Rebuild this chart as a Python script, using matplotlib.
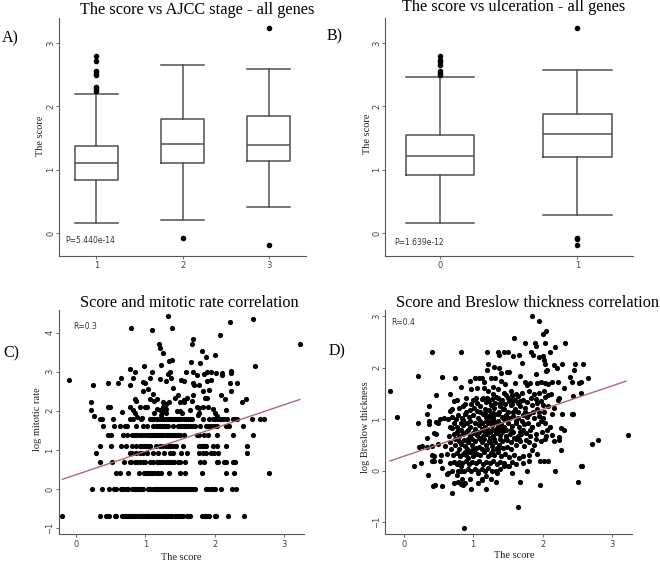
import matplotlib
matplotlib.use('Agg')
from matplotlib import pyplot as plt

W, H = 660, 562
SERIF = 'Liberation Serif'
GRAY = '#555555'
LINE_RED = '#b5696d'

# panel A / B boxplots
stage_labels = ['1', '2', '3']
stage_whislo = [0.165, 0.205, 0.41]
stage_q1 = [0.84, 1.11, 1.13]
stage_med = [1.11, 1.40, 1.385]
stage_q3 = [1.38, 1.80, 1.85]
stage_whishi = [2.20, 2.66, 2.585]
stage_fliers = [[2.25, 2.27, 2.30, 2.50, 2.53, 2.56, 2.72, 2.80], [-0.085], [-0.195, 3.23]]

ulcer_labels = ['0', '1']
ulcer_whislo = [0.165, 0.29]
ulcer_q1 = [0.91, 1.20]
ulcer_med = [1.21, 1.56]
ulcer_q3 = [1.55, 1.88]
ulcer_whishi = [2.46, 2.58]
ulcer_fliers = [[2.50, 2.53, 2.56, 2.65, 2.70, 2.73, 2.80], [-0.195, -0.09, -0.08, 3.23]]

# panel C: discrete mitotic rate levels, score values on each
mitotic_levels = [-0.69, 0.0, 0.41, 0.69, 0.92, 1.10, 1.39, 1.61, 1.79]
mitotic_scores = [
    [-0.20, 0.34, 0.43, 0.45, 0.48, 0.56, 0.58, 0.66, 0.69, 0.71, 0.73, 0.75, 0.77, 0.79, 0.81, 0.83, 0.85,
     0.87, 0.90, 0.92, 0.94, 0.96, 0.99, 1.01, 1.03, 1.05, 1.07, 1.10, 1.12, 1.14, 1.16, 1.18, 1.20, 1.22,
     1.25, 1.27, 1.29, 1.31, 1.34, 1.37, 1.39, 1.42, 1.45, 1.48, 1.51, 1.54, 1.60, 1.62, 1.64, 1.81, 1.84,
     1.86, 1.88, 1.92, 2.00, 2.02, 2.19, 2.43],
    [0.23, 0.37, 0.48, 0.54, 0.57, 0.65, 0.68, 0.72, 0.75, 0.81, 0.83, 0.85, 0.87, 0.89, 0.92, 0.94, 0.97,
     1.04, 1.07, 1.11, 1.14, 1.16, 1.18, 1.21, 1.23, 1.25, 1.28, 1.30, 1.33, 1.35, 1.38, 1.41, 1.43, 1.46,
     1.49, 1.51, 1.54, 1.57, 1.60, 1.63, 1.66, 1.69, 1.71, 1.88, 1.91, 1.94, 1.97, 2.00, 2.09, 2.25, 2.31],
    [0.58, 0.63, 0.75, 0.91, 0.98, 1.01, 1.04, 1.07, 1.10, 1.13, 1.16, 1.18, 1.23, 1.34, 1.50, 1.57, 1.81,
     2.16, 2.28, 2.79],
    [0.35, 0.51, 0.69, 0.77, 0.79, 0.85, 0.88, 0.92, 0.96, 1.00, 1.07, 1.11, 1.17, 1.20, 1.23, 1.26, 1.29,
     1.32, 1.35, 1.38, 1.41, 1.47, 1.50, 1.57, 1.79, 1.84, 2.03, 2.05, 2.13, 2.16, 2.27, 2.29],
    [0.28, 0.78, 0.81, 0.87, 0.92, 0.96, 1.02, 1.11, 1.18, 1.27, 1.35, 1.40, 1.52, 1.60, 1.78, 1.83, 1.88,
     1.94, 1.99, 2.05, 2.46],
    [0.35, 0.50, 0.64, 0.72, 0.81, 0.87, 0.92, 0.95, 0.98, 1.01, 1.04, 1.06, 1.15, 1.21, 1.26, 1.30, 1.33,
     1.36, 1.39, 1.42, 1.44, 1.54, 1.77, 1.80, 1.83, 1.86, 1.88, 1.98, 2.03, 2.17, 2.46],
    [0.46, 0.50, 0.67, 0.74, 0.80, 0.83, 0.86, 0.90, 0.95, 1.00, 1.04, 1.07, 1.10, 1.13, 1.15, 1.18, 1.21,
     1.24, 1.26, 1.29, 1.32, 1.35, 1.38, 1.41, 1.44, 1.47, 1.50, 1.55, 1.74, 1.77, 1.85, 1.90, 2.03, 2.27, 2.55],
    [0.39, 0.54, 0.63, 0.70, 0.73, 0.87, 0.97, 1.02, 1.11, 1.15, 1.18, 1.21, 1.24, 1.27, 1.30, 1.33, 1.40,
     1.47, 1.50, 1.53, 1.56, 1.59, 1.62, 1.65, 1.68, 1.71, 1.79, 1.88, 1.92, 1.96, 2.00, 2.04, 2.16, 2.21, 2.41],
    [0.35, 0.37, 0.53, 0.78, 0.82, 0.93, 1.07, 1.10, 1.13, 1.16, 1.19, 1.22, 1.25, 1.28, 1.31, 1.34, 1.37,
     1.40, 1.43, 1.46, 1.49, 1.52, 1.55, 1.58, 1.61, 1.64, 1.67, 1.83, 1.92, 1.98, 2.01, 2.05, 2.08, 2.11, 2.14,
     2.18, 2.27, 2.30, 2.32, 2.54, 2.65, 2.71],
]
mitotic_free = [
    (-0.10, 2.78), (0.24, 2.65), (0.46, 2.72), (0.60, 2.72), (0.65, 2.85), (0.79, 4.11), (1.10, 4.08), (1.32, 4.43),
    (1.38, 4.11), (1.69, 3.83), (1.67, 3.72), (2.22, 4.27), (2.56, 4.34), (3.23, 3.71), (2.58, 3.15), (2.08, 3.93),
    (2.01, 3.42), (1.82, 3.52), (1.87, 3.37), (1.66, 3.24), (1.79, 3.23), (1.20, 3.70), (1.21, 3.61), (1.25, 3.48),
    (1.34, 3.27), (1.39, 3.30), (1.23, 3.18), (0.98, 3.16), (0.85, 3.00), (0.78, 3.06), (0.82, 2.84), (0.78, 2.65),
    (0.97, 2.74), (1.00, 2.70), (1.06, 2.84), (1.09, 3.00), (1.21, 2.82), (1.30, 2.76), (1.32, 2.95), (1.35, 3.00),
    (1.37, 2.84), (1.40, 2.59), (1.52, 2.80), (1.56, 2.76), (1.58, 3.00), (1.69, 3.00), (1.68, 2.71), (1.70, 2.67),
    (1.75, 2.91), (1.78, 2.67), (1.84, 2.95), (1.89, 3.00), (1.89, 2.77), (1.95, 3.00), (1.95, 2.80), (2.02, 2.96),
    (2.11, 2.97), (2.11, 2.91), (2.22, 2.71), (2.23, 2.97), (2.24, 3.03), (2.23, 2.50), (2.32, 2.72), (2.09, 2.41),
    (2.15, 2.30), (1.92, 2.54), (1.83, 2.50), (1.68, 2.41), (1.55, 2.29), (1.47, 2.41), (0.97, 2.50), (0.85, 2.31),
    (0.87, 2.24), (0.92, 2.11), (1.00, 2.11), (0.21, 2.22), (0.21, 2.03), (0.25, 1.88), (0.49, 2.11), (0.46, 2.11),
    (0.66, 1.96), (0.78, 2.10), (0.82, 2.03), (0.85, 1.94), (0.95, 1.83), (0.88, 1.85), (1.02, 2.11), (1.07, 2.31),
    (1.13, 2.24), (1.16, 2.31), (1.25, 2.22), (1.30, 2.17), (1.25, 2.11), (1.34, 2.23), (1.43, 2.33), (1.50, 2.22),
    (1.55, 2.29), (1.60, 2.33), (1.67, 2.24), (1.75, 2.11), (1.78, 2.07), (1.86, 2.33), (1.89, 2.33), (1.98, 2.05),
    (2.00, 1.94), (2.04, 1.86), (2.16, 2.03), (2.39, 2.22), (2.45, 2.31), (1.25, 1.98), (1.21, 2.03), (1.30, 1.94),
    (1.78, 1.94), (1.64, 2.03), (1.45, 1.99), (1.50, 1.99), (1.53, 1.94), (1.76, 1.90), (1.22, 1.90), (1.29, 2.05),
    (1.11, 2.42), (1.12, 1.95), (1.16, 2.05), (1.04, 2.55), (1.56, 2.22), (1.83, 2.10), (1.90, 2.10),
]
mitotic_fit_x = [-0.20, 3.23]
mitotic_fit_y = [0.25, 2.29]

# panel D: score, log Breslow thickness
breslow_points = [
    (1.84, 3.01), (1.95, 2.90), (2.00, 2.65), (2.05, 2.72), (1.59, 2.58), (1.74, 2.49), (1.90, 2.43), (1.89, 2.48),
    (2.03, 2.48), (2.32, 2.49), (2.18, 2.40), (2.10, 2.30), (0.40, 2.31), (0.83, 2.31), (1.20, 2.31), (1.35, 2.30),
    (1.37, 2.24), (1.45, 2.30), (1.50, 2.30), (1.58, 2.22), (1.66, 2.25), (1.70, 2.09), (1.83, 2.30), (1.86, 2.25),
    (1.95, 2.20), (2.00, 2.22), (2.02, 2.15), (2.03, 2.08), (2.06, 1.95), (2.05, 1.93), (1.21, 2.08), (1.20, 1.95),
    (1.30, 2.02), (1.37, 2.00), (1.40, 1.90), (1.48, 1.92), (1.52, 1.92), (1.67, 1.84), (1.90, 1.88), (2.17, 2.05),
    (2.20, 2.00), (2.28, 2.08), (2.46, 2.08), (2.58, 2.08), (2.45, 1.96), (2.39, 1.82), (2.42, 1.72), (2.65, 1.80),
    (2.55, 1.72), (2.53, 1.70), (0.20, 1.85), (0.55, 1.83), (0.74, 1.80), (0.95, 1.75), (1.02, 1.80), (1.08, 1.80),
    (1.13, 1.80), (1.16, 1.72), (1.25, 1.80), (1.32, 1.80), (1.40, 1.75), (1.46, 1.68), (1.60, 1.70), (1.75, 1.73),
    (1.78, 1.66), (1.82, 1.70), (1.92, 1.70), (1.98, 1.72), (2.03, 1.70), (2.08, 1.68), (2.13, 1.72), (2.22, 1.72),
    (2.30, 1.61), (-0.20, 1.55), (0.66, 1.50), (0.83, 1.62), (0.97, 1.58), (1.06, 1.60), (1.15, 1.60), (1.22, 1.55),
    (1.28, 1.62), (1.35, 1.58), (1.44, 1.52), (1.55, 1.55), (1.62, 1.50), (1.70, 1.52), (1.80, 1.55), (1.88, 1.50),
    (1.95, 1.52), (2.02, 1.55), (2.07, 1.48), (2.12, 1.50), (2.23, 1.42), (2.44, 1.45), (2.55, 1.52), (0.46, 1.48),
    (0.76, 1.37), (0.73, 1.35), (0.90, 1.42), (1.00, 1.38), (1.04, 1.42), (1.12, 1.40), (1.20, 1.42), (1.27, 1.40),
    (1.33, 1.44), (1.42, 1.38), (1.50, 1.42), (1.57, 1.40), (1.64, 1.45), (1.72, 1.38), (1.83, 1.42), (1.90, 1.40),
    (1.98, 1.36), (2.04, 1.43), (2.22, 1.38), (0.37, 1.26), (0.66, 1.17), (0.70, 1.20), (0.80, 1.22), (0.85, 1.25),
    (0.95, 1.18), (1.01, 1.22), (1.10, 1.26), (1.17, 1.20), (1.25, 1.27), (1.30, 1.22), (1.38, 1.25), (1.45, 1.20),
    (1.54, 1.27), (1.60, 1.20), (1.68, 1.25), (1.75, 1.22), (1.85, 1.27), (1.92, 1.20), (2.00, 1.27), (2.08, 1.25),
    (2.16, 1.22), (0.34, 1.10), (0.37, 0.96), (0.52, 1.00), (0.58, 1.03), (0.64, 1.00), (0.70, 1.05), (0.78, 1.08),
    (0.84, 1.02), (0.88, 1.10), (0.94, 1.05), (1.00, 1.08), (1.07, 1.03), (1.14, 1.10), (1.19, 1.04), (1.24, 1.08),
    (1.29, 1.02), (1.35, 1.10), (1.41, 1.05), (1.47, 1.08), (1.53, 1.02), (1.58, 1.07), (1.65, 1.03), (1.71, 1.08),
    (1.78, 1.04), (1.87, 1.02), (1.95, 1.07), (2.01, 1.03), (2.14, 1.10), (2.28, 1.10), (2.42, 1.10), (-0.09, 1.04),
    (0.20, 0.92), (0.37, 0.90), (0.47, 0.95), (0.50, 0.92), (0.66, 0.86), (0.73, 0.92), (0.77, 0.85), (0.82, 0.92),
    (0.86, 0.88), (0.91, 0.93), (0.96, 0.86), (1.03, 0.92), (1.09, 0.88), (1.13, 0.92), (1.17, 0.85), (1.22, 0.93),
    (1.27, 0.88), (1.31, 0.92), (1.36, 0.86), (1.40, 0.90), (1.45, 0.85), (1.50, 0.92), (1.56, 0.87), (1.61, 0.93),
    (1.66, 0.86), (1.73, 0.90), (1.79, 0.93), (1.84, 0.86), (1.93, 0.90), (2.03, 0.92), (2.10, 0.85), (2.26, 0.84),
    (2.30, 0.80), (0.44, 0.73), (0.47, 0.72), (0.65, 0.68), (0.72, 0.72), (0.76, 0.75), (0.80, 0.68), (0.85, 0.72),
    (0.90, 0.75), (0.95, 0.68), (1.00, 0.73), (1.05, 0.70), (1.09, 0.75), (1.14, 0.68), (1.20, 0.72), (1.24, 0.75),
    (1.28, 0.68), (1.33, 0.73), (1.38, 0.70), (1.42, 0.75), (1.47, 0.68), (1.53, 0.72), (1.58, 0.75), (1.64, 0.68),
    (1.69, 0.72), (1.76, 0.74), (1.82, 0.68), (1.90, 0.72), (1.99, 0.75), (2.05, 0.68), (2.13, 0.70), (2.23, 0.66),
    (0.34, 0.63), (0.40, 0.48), (0.49, 0.52), (0.60, 0.48), (0.67, 0.55), (0.74, 0.50), (0.79, 0.58), (0.83, 0.52),
    (0.88, 0.48), (0.93, 0.55), (0.98, 0.50), (1.03, 0.58), (1.08, 0.47), (1.12, 0.55), (1.18, 0.50), (1.23, 0.58),
    (1.27, 0.48), (1.32, 0.55), (1.37, 0.50), (1.42, 0.58), (1.48, 0.47), (1.54, 0.55), (1.61, 0.50), (1.67, 0.58),
    (1.73, 0.48), (1.81, 0.55), (1.88, 0.50), (1.97, 0.57), (2.04, 0.62), (2.17, 0.58), (2.24, 0.60), (0.22, 0.47),
    (0.27, 0.48), (0.33, 0.47), (0.40, 0.30), (0.44, 0.28), (0.53, 0.30), (0.62, 0.33), (0.71, 0.30), (0.76, 0.35),
    (0.81, 0.28), (0.86, 0.33), (0.90, 0.30), (0.96, 0.36), (1.00, 0.28), (1.06, 0.33), (1.10, 0.30), (1.16, 0.36),
    (1.21, 0.28), (1.26, 0.33), (1.30, 0.30), (1.36, 0.36), (1.40, 0.28), (1.46, 0.33), (1.52, 0.26), (1.59, 0.30),
    (1.66, 0.25), (1.72, 0.28), (1.80, 0.30), (1.85, 0.40), (1.92, 0.32), (2.02, 0.19), (2.27, 0.41), (0.41, 0.20),
    (0.43, 0.20), (0.52, 0.20), (0.67, 0.15), (0.72, 0.18), (0.76, 0.13), (0.80, 0.18), (0.84, 0.15), (0.89, 0.20),
    (0.94, 0.13), (0.99, 0.18), (1.04, 0.15), (1.09, 0.20), (1.14, 0.13), (1.19, 0.18), (1.24, 0.15), (1.29, 0.20),
    (1.34, 0.13), (1.39, 0.18), (1.44, 0.15), (1.51, 0.10), (1.56, 0.18), (1.62, 0.13), (1.71, 0.15), (1.81, 0.19),
    (1.96, 0.19), (2.08, 0.19), (0.15, 0.10), (0.25, 0.15), (0.55, 0.05), (0.64, -0.05), (0.70, 0.00), (0.78, 0.00),
    (0.82, 0.00), (0.87, 0.00), (0.92, 0.03), (0.97, 0.00), (1.02, 0.03), (1.07, 0.00), (1.12, 0.03), (1.17, 0.00),
    (1.22, 0.05), (1.27, 0.00), (1.33, 0.00), (1.39, 0.03), (1.44, 0.10), (1.50, 0.10), (1.77, 0.00), (2.18, 0.00),
    (2.56, 0.10), (2.55, 0.09), (0.35, -0.08), (0.62, -0.07), (0.76, -0.08), (0.84, -0.15), (0.95, -0.15), (1.07, -0.05),
    (1.13, -0.15), (1.18, -0.10), (1.26, -0.15), (1.34, -0.05), (1.56, -0.05), (0.42, -0.30), (0.45, -0.28), (0.55, -0.30),
    (0.72, -0.23), (0.78, -0.22), (0.83, -0.25), (0.86, -0.28), (0.88, -0.23), (1.07, -0.23), (1.13, -0.18), (1.33, -0.22),
    (1.67, -0.22), (1.96, -0.28), (2.51, -0.22), (0.97, -0.35), (1.19, -0.36), (0.69, -0.43), (1.65, -0.70), (0.87, -1.11),
    (2.71, 0.53), (2.79, 0.59), (3.23, 0.70), (2.43, 1.10), (1.31, 0.95), (1.42, 0.82), (1.07, 0.76), (0.92, 0.62),
    (1.11, 0.60), (1.28, 0.98), (1.22, 1.05), (1.50, 1.15), (1.55, 1.33), (1.15, 0.78), (0.99, 0.40), (0.88, 0.37),
    (1.03, 0.42), (1.38, 0.78), (1.47, 0.62), (1.26, 0.35), (1.19, 1.33), (1.10, 1.15), (1.35, 0.42), (1.62, 0.62),
    (1.72, 0.80), (0.93, 0.25), (0.82, 0.10), (1.02, 0.35), (1.24, 0.55), (1.32, 1.10), (1.43, 1.20), (1.56, 1.30),
    (1.67, 0.75), (1.85, 0.85),
]
# the black mass in the middle of panel D, where single dots can only be guessed
breslow_core = [
    (0.74, 0.62), (0.79, 0.42), (0.83, 0.80), (0.87, 0.60), (0.91, 0.42), (0.93, 0.79), (0.96, 0.97), (0.98, 0.62),
    (1.02, 0.81), (1.04, 0.44), (1.06, 1.16), (1.08, 0.64), (1.10, 0.97), (1.12, 0.42), (1.13, 0.82), (1.16, 0.61),
    (1.17, 1.12), (1.18, 0.97), (1.20, 0.42), (1.21, 0.80), (1.23, 1.18), (1.24, 0.63), (1.25, 0.97), (1.27, 0.80),
    (1.28, 0.41), (1.29, 1.12), (1.30, 0.62), (1.31, 1.32), (1.33, 0.82), (1.34, 0.45), (1.36, 0.96), (1.37, 1.15),
    (1.38, 0.61), (1.39, 1.32), (1.41, 0.80), (1.43, 0.44), (1.44, 1.00), (1.46, 1.30), (1.47, 0.80), (1.49, 0.60),
    (1.50, 1.02), (1.52, 1.35), (1.54, 0.80), (1.55, 0.42), (1.57, 1.15), (1.59, 0.64), (1.60, 1.38), (1.62, 0.96),
    (1.65, 1.14), (1.66, 0.62), (1.68, 1.36), (1.70, 0.96), (1.74, 1.15), (1.76, 0.60), (1.80, 1.10), (1.82, 0.80),
    (1.86, 1.15), (1.90, 0.62), (1.94, 1.14), (1.98, 0.96), (2.02, 1.14), (2.06, 0.80), (0.90, 1.15), (0.85, 0.98),
    (0.75, 1.00), (0.78, 0.78), (0.70, 0.83), (0.68, 0.42), (0.88, 1.30), (0.97, 1.30), (1.06, 1.32), (1.14, 1.42),
    (1.23, 1.35), (1.29, 1.50), (1.36, 1.42), (1.47, 1.48), (1.56, 1.48), (1.65, 1.32), (1.78, 1.33), (1.92, 1.32),
]
breslow_fit_x = [-0.20, 3.20]
breslow_fit_y = [0.19, 1.74]


def px_axes(fig, left, right, top, bottom):
    return fig.add_axes([left / W, 1 - bottom / H, (right - left) / W, (bottom - top) / H])


def style_axes(ax):
    ax.spines['top'].set_visible(False)
    ax.spines['right'].set_visible(False)
    ax.spines['left'].set_color(GRAY)
    ax.spines['bottom'].set_color(GRAY)
    ax.tick_params(length=2, width=0.6, color=GRAY, labelcolor='#444444', labelsize=6, pad=2)
    ax.tick_params(axis='y', pad=1)
    for t in ax.get_yticklabels():
        t.set_rotation(90)
        t.set_va('center')


def fig_text(fig, x, y, s, size, **kwargs):
    fig.text(x / W, 1 - y / H, s, fontsize=size, family=SERIF, ha='center', va='center', **kwargs)


def draw_box(ax, labels, whislo, q1, med, q3, whishi, fliers):
    stats = []
    for i in range(len(labels)):
        stats.append({'whislo': whislo[i], 'q1': q1[i], 'med': med[i], 'q3': q3[i],
                      'whishi': whishi[i], 'fliers': fliers[i]})
    line = {'color': '#505050', 'linewidth': 1.1}
    ax.bxp(stats, positions=range(len(labels)), widths=0.5, capwidths=0.5,
           boxprops=line, medianprops=line, whiskerprops=line, capprops=line,
           flierprops={'marker': 'o', 'markerfacecolor': 'black', 'markeredgecolor': 'black',
                       'markersize': 3.0})
    ax.set_xticks(range(len(labels)))
    ax.set_xticklabels(labels)
    ax.set_yticks([0, 1, 2, 3])
    ax.set_ylim(-0.358, 3.395)


fig = plt.figure(figsize=(W / 100, H / 100), dpi=100)

ax_a = px_axes(fig, 59.3, 306, 18, 255.7)
draw_box(ax_a, stage_labels, stage_whislo, stage_q1, stage_med, stage_q3, stage_whishi, stage_fliers)
ax_a.set_xlim(-0.43, 2.43)
style_axes(ax_a)
ax_a.text(-0.36, -0.115, 'P=5.440e-14', fontsize=5.5, color='#333333', va='center')

ax_b = px_axes(fig, 385.3, 632.7, 18, 255.7)
draw_box(ax_b, ulcer_labels, ulcer_whislo, ulcer_q1, ulcer_med, ulcer_q3, ulcer_whishi, ulcer_fliers)
ax_b.set_xlim(-0.40, 1.404)
style_axes(ax_b)
ax_b.text(-0.335, -0.15, 'P=1.639e-12', fontsize=5.5, color='#333333', va='center')

ax_c = px_axes(fig, 58.7, 304.3, 310, 534)
for level, scores in zip(mitotic_levels, mitotic_scores):
    ax_c.scatter(scores, [level] * len(scores), s=14, color='black', linewidths=0, zorder=2)
ax_c.scatter([p[0] for p in mitotic_free], [p[1] for p in mitotic_free], s=14, color='black', linewidths=0, zorder=2)
ax_c.plot(mitotic_fit_x, mitotic_fit_y, color=LINE_RED, lw=1.0, zorder=3)
ax_c.set_xlim(-0.254, 3.295)
ax_c.set_ylim(-1.15, 4.58)
ax_c.set_xticks([0, 1, 2, 3])
ax_c.set_yticks([-1, 0, 1, 2, 3, 4])
style_axes(ax_c)
ax_c.text(-0.05, 4.15, 'R=0.3', fontsize=5.5, color='#333333', va='center')

ax_d = px_axes(fig, 385.3, 632.3, 310, 534)
ax_d.scatter([p[0] for p in breslow_points], [p[1] for p in breslow_points], s=14, color='black', linewidths=0, zorder=2)
ax_d.scatter([p[0] for p in breslow_core], [p[1] for p in breslow_core], s=14, color='black', linewidths=0, zorder=2)
ax_d.plot(breslow_fit_x, breslow_fit_y, color=LINE_RED, lw=1.0, zorder=3)
ax_d.set_xlim(-0.265, 3.29)
ax_d.set_ylim(-1.227, 3.122)
ax_d.set_xticks([0, 1, 2, 3])
ax_d.set_yticks([-1, 0, 1, 2, 3])
style_axes(ax_d)
ax_d.text(-0.18, 2.87, 'R=0.4', fontsize=5.5, color='#333333', va='center')

# titles, panel letters and axis labels sit where the figure was assembled by hand
fig_text(fig, 197, 10, 'The score vs AJCC stage - all genes', 11.7)
fig_text(fig, 514, 7, 'The score vs ulceration - all genes', 11.7)
fig_text(fig, 189, 303, 'Score and mitotic rate correlation', 11.7)
fig_text(fig, 527, 303, 'Score and Breslow thickness correlation', 11.7)
fig_text(fig, 10, 38, 'A)', 11.5)
fig_text(fig, 335, 36, 'B)', 11.5)
fig_text(fig, 11, 353, 'C)', 11.5)
fig_text(fig, 337, 351, 'D)', 11.5)
fig_text(fig, 40.7, 136, 'The score', 7.5, rotation=90, color='#222222')
fig_text(fig, 368, 134, 'The score', 7.5, rotation=90, color='#222222')
fig_text(fig, 37.7, 419, 'log mitotic rate', 7.5, rotation=90, color='#222222')
fig_text(fig, 365.7, 427, 'log Breslow thickness', 7.5, rotation=90, color='#222222')
fig_text(fig, 181, 557, 'The score', 7.5, color='#222222')
fig_text(fig, 514, 555, 'The score', 7.5, color='#222222')

fig.savefig('out.png', dpi=100)
plt.close(fig)
